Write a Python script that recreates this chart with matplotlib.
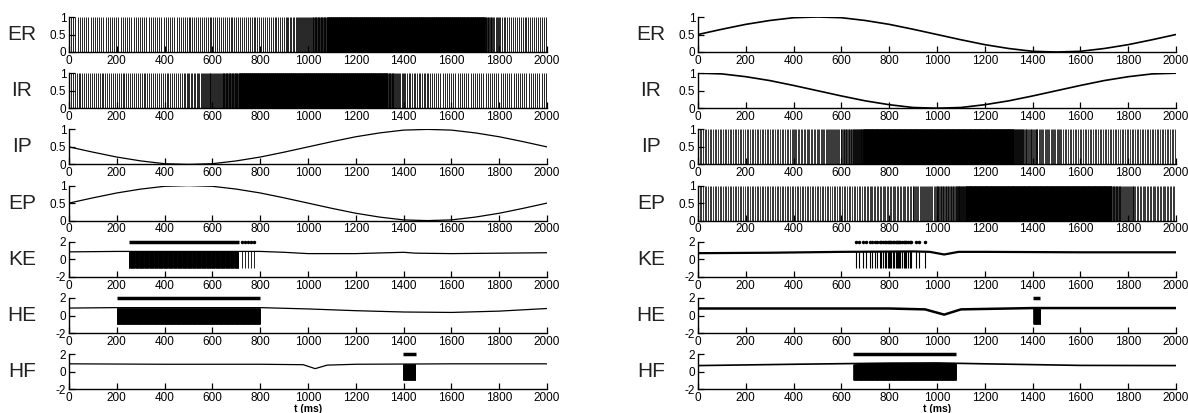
import numpy as np
import matplotlib
matplotlib.use('Agg')
import matplotlib.pyplot as plt

plt.rcParams['font.family'] = ['Liberation Sans', 'DejaVu Sans']

# rows of each panel
rows = ['ER', 'IR', 'IP', 'EP', 'KE', 'HE', 'HF']

# sampled smooth curves, every 100 ms from 0 to 2000
t_curve = [0, 100, 200, 300, 400, 500, 600, 700, 800, 900, 1000,
           1100, 1200, 1300, 1400, 1500, 1600, 1700, 1800, 1900, 2000]
rise_first = [0.5, 0.65, 0.79, 0.9, 0.98, 1.0, 0.98, 0.9, 0.79, 0.65, 0.5,
              0.35, 0.21, 0.1, 0.02, 0.0, 0.02, 0.1, 0.21, 0.35, 0.5]
fall_first = [0.5, 0.35, 0.21, 0.1, 0.02, 0.0, 0.02, 0.1, 0.21, 0.35, 0.5,
              0.65, 0.79, 0.9, 0.98, 1.0, 0.98, 0.9, 0.79, 0.65, 0.5]
start_high = [1.0, 0.98, 0.9, 0.79, 0.65, 0.5, 0.35, 0.21, 0.1, 0.02, 0.0,
              0.02, 0.1, 0.21, 0.35, 0.5, 0.65, 0.79, 0.9, 0.98, 1.0]

# spike-train density segments: (start ms, end ms, interval ms)
left_er_seg = [(0, 500, 9), (500, 900, 8), (900, 960, 6), (960, 1020, 4), (1020, 1080, 2.5),
               (1080, 1740, 1.2), (1740, 1770, 3), (1770, 1810, 5), (1810, 2000, 8)]
left_ir_seg = [(0, 480, 8), (480, 560, 6), (560, 640, 4), (640, 710, 2.5), (710, 1330, 1.2),
               (1330, 1360, 2.5), (1360, 1400, 4.5), (1400, 1500, 7), (1500, 2000, 9)]
right_ip_seg = [(0, 400, 7), (400, 520, 6), (520, 600, 4.5), (600, 650, 3), (650, 690, 2),
                (690, 1320, 1.0), (1320, 1360, 2), (1360, 1420, 3.5), (1420, 1520, 5), (1520, 2000, 7)]
right_ep_seg = [(0, 700, 7), (700, 900, 6), (900, 1000, 4.5), (1000, 1080, 3), (1080, 1120, 2),
                (1120, 1730, 1.0), (1730, 1770, 2.5), (1770, 1830, 4), (1830, 2000, 6)]

# membrane-like traces (ms, value)
left_ke_t = [0, 200, 400, 600, 800, 900, 1000, 1200, 1400, 1450, 1600, 1800, 2000]
left_ke_v = [0.85, 0.9, 0.9, 0.9, 0.9, 0.8, 0.65, 0.65, 0.8, 0.7, 0.65, 0.7, 0.75]
left_he_t = [0, 200, 800, 1000, 1200, 1400, 1600, 1800, 2000]
left_he_v = [0.85, 0.9, 0.9, 0.75, 0.55, 0.4, 0.35, 0.5, 0.8]
left_hf_t = [0, 400, 800, 980, 1030, 1080, 1200, 1600, 2000]
left_hf_v = [0.9, 0.85, 0.85, 0.8, 0.35, 0.75, 0.85, 0.9, 0.9]
right_ke_t = [0, 300, 600, 900, 970, 1030, 1090, 1200, 1600, 2000]
right_ke_v = [0.7, 0.75, 0.85, 0.9, 0.85, 0.55, 0.85, 0.85, 0.8, 0.8]
right_he_t = [0, 400, 800, 950, 1030, 1100, 1400, 1600, 2000]
right_he_v = [0.8, 0.8, 0.8, 0.7, 0.1, 0.7, 0.85, 0.85, 0.85]
right_hf_t = [0, 400, 800, 1000, 1200, 1600, 2000]
right_hf_v = [0.7, 0.85, 0.98, 1.0, 0.9, 0.72, 0.7]

# bursts: (start, end, interval) of dense firing, plus isolated spikes
left_ke_burst = (250, 710, 1.5)
left_ke_extra = [722, 735, 748, 760, 772]
left_he_burst = (200, 800, 1.0)
left_hf_burst = (1398, 1450, 1.0)
right_ke_spikes = [660, 674, 691, 705, 718, 730, 739, 749, 760, 767, 774, 781, 788,
                   795, 799, 805, 809, 815, 819, 827, 833, 837, 842, 847, 855, 860,
                   865, 872, 879, 886, 892, 911, 924, 948]
right_he_burst = (1403, 1433, 1.0)
right_hf_burst = (650, 1080, 1.0)


def spikes_from(segs):
    out = []
    for a, b, d in segs:
        out.append(np.arange(a, b, d))
    return np.concatenate(out)


def style(ax, ylim, yticks, yticklabels):
    ax.set_xlim(0, 2000)
    ax.set_ylim(*ylim)
    ax.set_xticks(range(0, 2001, 200))
    ax.set_yticks(yticks)
    ax.set_yticklabels(yticklabels)
    ax.spines['top'].set_visible(False)
    ax.spines['right'].set_visible(False)
    ax.spines['left'].set_linewidth(1.0)
    ax.spines['bottom'].set_linewidth(1.0)
    ax.tick_params(direction='in', length=4, width=0.9, labelsize=8.5, pad=2)
    ax.patch.set_alpha(0)


def raster(ax, times, lw):
    ax.vlines(times, 0, 1, color='black', lw=lw)
    style(ax, (0, 1), [0, 0.5, 1], ['0', '0.5', '1'])


def curve(ax, vals, lw=1.0):
    ax.plot(t_curve, vals, color='black', lw=lw)
    style(ax, (0, 1), [0, 0.5, 1], ['0', '0.5', '1'])


def trace(ax, tt, vv, lw=1.0):
    ax.plot(tt, vv, color='black', lw=lw, zorder=1)
    style(ax, (-2, 2), [-2, 0, 2], ['-2', '0', '2'])


def burst(ax, tt, vv, b):
    s = np.arange(b[0], b[1], b[2])
    base = np.interp(s, tt, vv)
    ax.vlines(s, -1, base, color='black', lw=0.6, zorder=2)
    ax.plot([b[0], b[1]], [2, 2], color='black', lw=2.5, solid_capstyle='butt', clip_on=False)


fig = plt.figure(figsize=(11.88, 4.13), dpi=100)
W, H = 1188, 413
col_x = [69, 698]
col_w = 478
row_top = 17
pitch = 56.2
ax_h = 35

axes = {}
for c in range(2):
    for i, name in enumerate(rows):
        top = row_top + pitch * i
        ax = fig.add_axes([col_x[c] / W, 1 - (top + ax_h) / H, col_w / W, ax_h / H])
        axes[(c, name)] = ax
        fig.text((col_x[c] - 47) / W, 1 - (top + ax_h / 2) / H, name,
                 fontsize=15, ha='center', va='center', color='#222222')

# left panel
raster(axes[(0, 'ER')], spikes_from(left_er_seg), 0.6)
raster(axes[(0, 'IR')], spikes_from(left_ir_seg), 0.6)
curve(axes[(0, 'IP')], fall_first, lw=0.9)
curve(axes[(0, 'EP')], rise_first, lw=0.9)

ax = axes[(0, 'KE')]
trace(ax, left_ke_t, left_ke_v, lw=0.9)
burst(ax, left_ke_t, left_ke_v, left_ke_burst)
ax.vlines(left_ke_extra, -1, 0.9, color='black', lw=0.6)
ax.plot(left_ke_extra, [2] * len(left_ke_extra), 'k.', ms=3, clip_on=False)

ax = axes[(0, 'HE')]
trace(ax, left_he_t, left_he_v, lw=0.9)
burst(ax, left_he_t, left_he_v, left_he_burst)

ax = axes[(0, 'HF')]
trace(ax, left_hf_t, left_hf_v, lw=0.9)
burst(ax, left_hf_t, left_hf_v, left_hf_burst)

# right panel
curve(axes[(1, 'ER')], rise_first, lw=1.2)
curve(axes[(1, 'IR')], start_high, lw=1.2)
raster(axes[(1, 'IP')], spikes_from(right_ip_seg), 0.55)
raster(axes[(1, 'EP')], spikes_from(right_ep_seg), 0.55)

ax = axes[(1, 'KE')]
trace(ax, right_ke_t, right_ke_v, lw=1.6)
ax.vlines(right_ke_spikes, -1, 0.9, color='black', lw=0.8)
ax.plot(right_ke_spikes, [2] * len(right_ke_spikes), 'k.', ms=3, clip_on=False)

ax = axes[(1, 'HE')]
trace(ax, right_he_t, right_he_v, lw=1.8)
burst(ax, right_he_t, right_he_v, right_he_burst)

ax = axes[(1, 'HF')]
trace(ax, right_hf_t, right_hf_v, lw=1.2)
burst(ax, right_hf_t, right_hf_v, right_hf_burst)

for c in range(2):
    fig.text((col_x[c] + col_w / 2) / W, 1 - 409 / H, 't (ms)',
             fontsize=7.5, fontweight='bold', ha='center', va='center')

fig.savefig('out.png', dpi=100)
